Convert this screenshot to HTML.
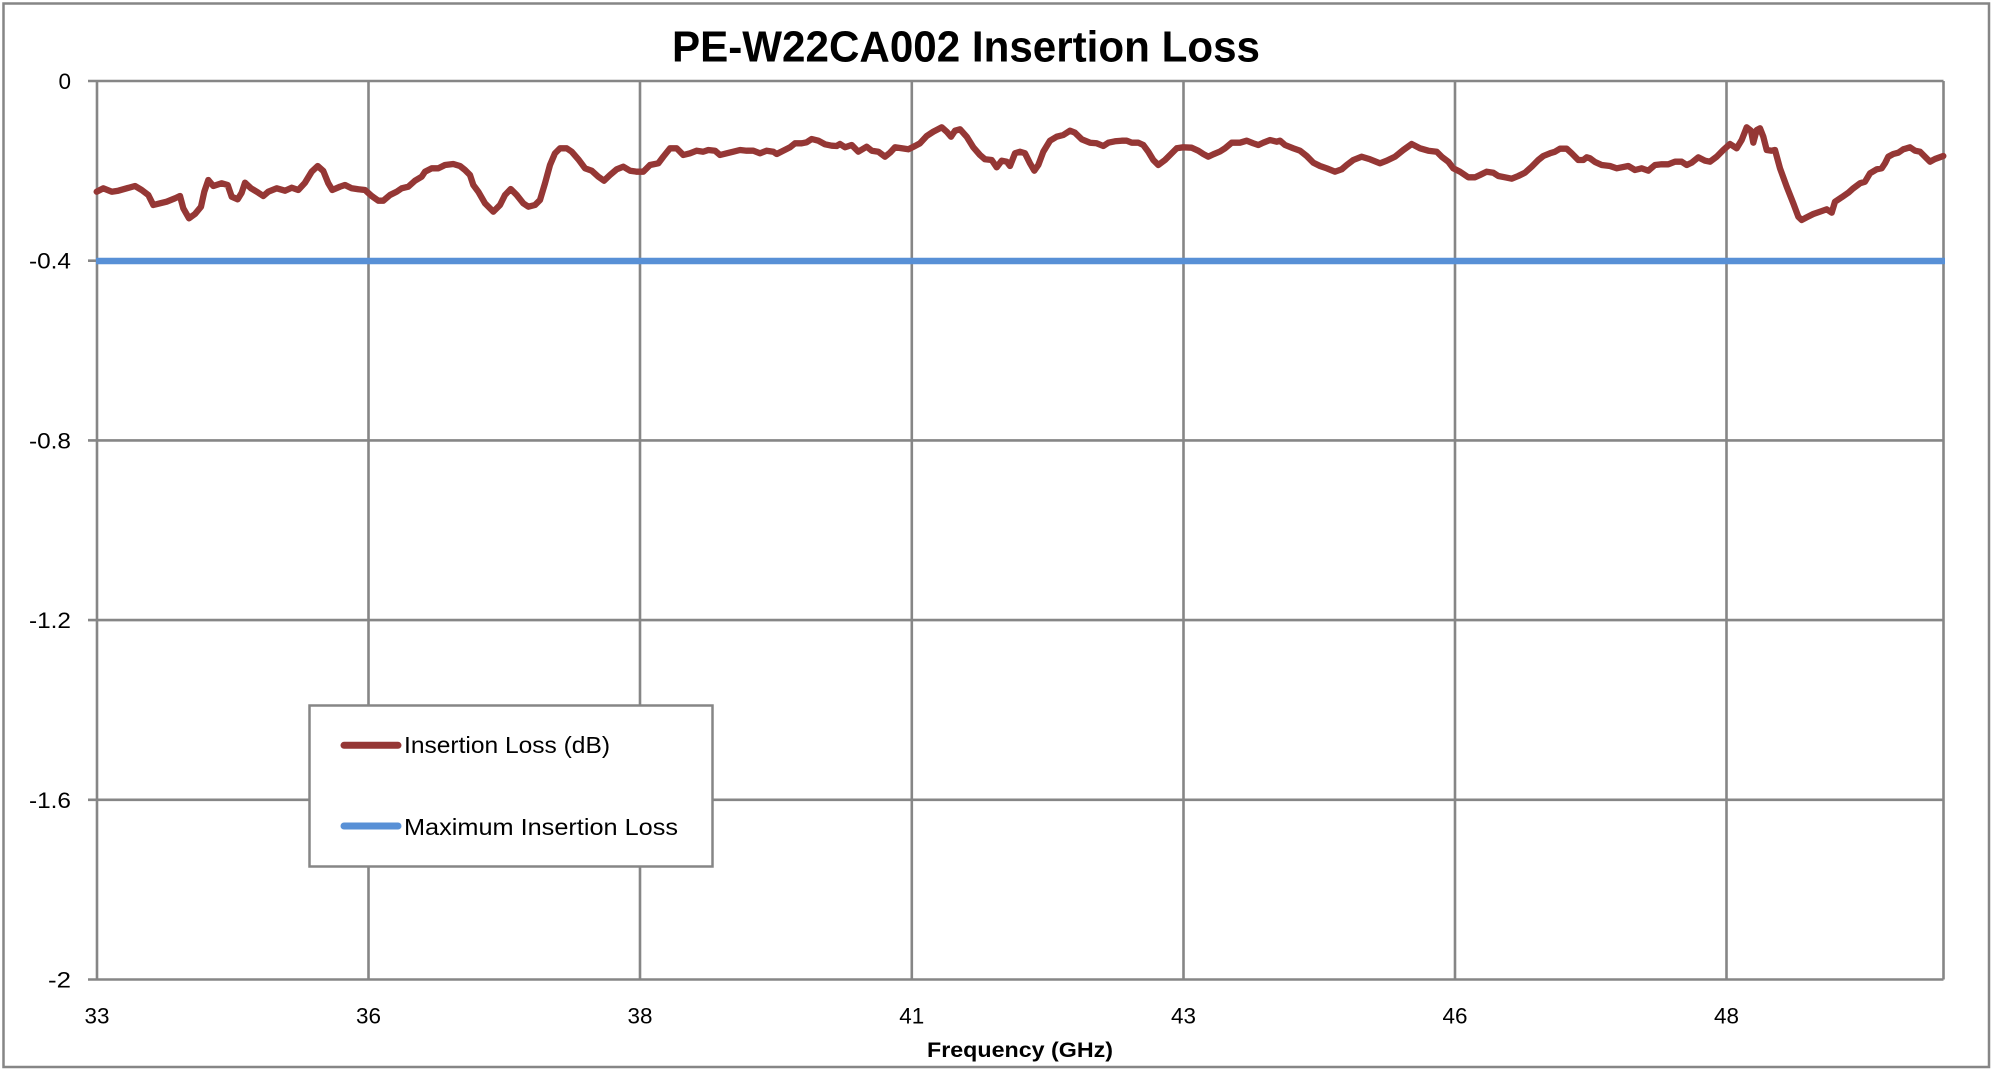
<!DOCTYPE html>
<html>
<head>
<meta charset="utf-8">
<style>
html,body{margin:0;padding:0;background:#fff;}
svg{display:block;}
text{font-family:"Liberation Sans", Arial, sans-serif;fill:#000;}
</style>
</head>
<body>
<svg width="1993" height="1071" viewBox="0 0 1993 1071" xmlns="http://www.w3.org/2000/svg">
<rect x="0" y="0" width="1993" height="1071" fill="#fff"/>
<rect x="3.5" y="3.5" width="1985.5" height="1063.5" fill="none" stroke="#868686" stroke-width="2.5"/>

<text x="966" y="61.5" font-size="44" font-weight="bold" text-anchor="middle" textLength="588" lengthAdjust="spacingAndGlyphs">PE-W22CA002 Insertion Loss</text>

<g stroke="#868686" stroke-width="2.6" fill="none">
  <line x1="88" y1="81" x2="1943.5" y2="81"/>
  <line x1="88" y1="260.7" x2="1943.5" y2="260.7"/>
  <line x1="88" y1="440.4" x2="1943.5" y2="440.4"/>
  <line x1="88" y1="620.1" x2="1943.5" y2="620.1"/>
  <line x1="88" y1="799.8" x2="1943.5" y2="799.8"/>
  <line x1="88" y1="979.5" x2="1943.5" y2="979.5"/>
  <line x1="97" y1="81" x2="97" y2="979.5"/>
  <line x1="368.5" y1="81" x2="368.5" y2="979.5"/>
  <line x1="640" y1="81" x2="640" y2="979.5"/>
  <line x1="911.8" y1="81" x2="911.8" y2="979.5"/>
  <line x1="1183.5" y1="81" x2="1183.5" y2="979.5"/>
  <line x1="1455" y1="81" x2="1455" y2="979.5"/>
  <line x1="1726.5" y1="81" x2="1726.5" y2="979.5"/>
  <line x1="1943.5" y1="81" x2="1943.5" y2="979.5"/>
</g>

<g font-size="22.5" text-anchor="end">
  <text x="71" y="89">0</text>
  <text x="71" y="268.7" textLength="42" lengthAdjust="spacingAndGlyphs">-0.4</text>
  <text x="71" y="448.4" textLength="42" lengthAdjust="spacingAndGlyphs">-0.8</text>
  <text x="71" y="628.1" textLength="42" lengthAdjust="spacingAndGlyphs">-1.2</text>
  <text x="71" y="807.8" textLength="42" lengthAdjust="spacingAndGlyphs">-1.6</text>
  <text x="71" y="987.5" textLength="23" lengthAdjust="spacingAndGlyphs">-2</text>
</g>

<g font-size="22.5" text-anchor="middle">
  <text x="97" y="1023.5" textLength="25" lengthAdjust="spacingAndGlyphs">33</text>
  <text x="368.5" y="1023.5" textLength="25" lengthAdjust="spacingAndGlyphs">36</text>
  <text x="640" y="1023.5" textLength="25" lengthAdjust="spacingAndGlyphs">38</text>
  <text x="911.8" y="1023.5" textLength="25" lengthAdjust="spacingAndGlyphs">41</text>
  <text x="1183.5" y="1023.5" textLength="25" lengthAdjust="spacingAndGlyphs">43</text>
  <text x="1455" y="1023.5" textLength="25" lengthAdjust="spacingAndGlyphs">46</text>
  <text x="1726.5" y="1023.5" textLength="25" lengthAdjust="spacingAndGlyphs">48</text>
</g>

<text x="1020" y="1057" font-size="21" font-weight="bold" text-anchor="middle" textLength="186" lengthAdjust="spacingAndGlyphs">Frequency (GHz)</text>

<line x1="96" y1="261" x2="1945" y2="261" stroke="#5890D6" stroke-width="6.5"/>

<path fill="none" stroke="#953735" stroke-width="6.3" stroke-linejoin="round" stroke-linecap="round" d="
M96.7,191.7 L103.3,188.3 L111.7,191.7 L118.3,190.7 L126.7,188.3 L135,186 L141.7,190 L148.3,195 L153.3,205 L160,203.3 L166.7,201.7 L175,198.3 L180,196 L183.3,208.3 L189,218.3 L195,214 L201,206.7 L204.3,191.7 L208.3,180 L213.3,186 L221.7,183.3 L227.7,185 L231.7,196.7 L237.7,199.3 L241.7,192.7 L245,182.7 L251,188.3 L258.3,192.7 L263.3,196 L268.3,191.7 L276.7,188.3 L285,190.7 L291.7,187.7 L298.3,190 L305,182.7 L311.7,171.7 L317.7,166 L323.3,171 L328.3,183.3 L332.3,190 L340,186.7 L345,185 L351.7,188.3 L358.3,189.3 L365,190 L371.7,196 L378.3,200.7 L383.3,200.7 L390,195 L396.7,191.7 L401.7,188.3 L408.3,186.7 L415,180.7 L421.7,176.7 L425,171.7 L431.7,168.3 L438.3,168.3 L445,165 L453.3,164 L460,166 L465,170 L470,175
L473.3,185 L478.3,191.7 L485,203.3 L493.3,211.7 L500,205 L505,195 L510.7,189 L516.7,195 L523.3,203.3 L528.3,206.7 L535,205 L540,200 L545,183.3 L550,165 L555,153.3 L560,148.3 L566.7,148.3 L571.7,151.7 L578.3,159.3 L585,168.3 L591.7,170.7 L598.3,176.7 L604,180.7 L610,175 L616.7,169.3 L623.3,166.7 L630,170.7 L636.7,171.7 L643.3,171.7 L650,165 L658.3,163.3 L663.3,156.7 L670,148.3 L676.7,148.3 L683.3,155 L690,153.3 L696.7,150.7 L703.3,151.7 L708.3,150 L715,150.7 L720,155 L726.7,153.3 L733.3,151.7 L740,150 L746.7,150.7 L753.3,150.7 L760,153.3 L766.7,150.7 L773.3,151.7 L776.7,154 L783.3,150.7 L790,147.3 L795,143.3 L801.7,143.3 L806.7,142.3 L811.7,139 L818.3,140.7 L825,144.3 L831.7,145.7 L836.7,146 L840,144 L845,147.3
L851.7,145 L858.3,151.7 L866.7,146.7 L871.7,150.7 L878.3,151.7 L885,156.7 L890,152.7 L895,147.3 L901.7,148.3 L908.3,149.3 L915,146 L920,143.3 L926.7,136 L933.3,131.7 L941.7,127.3 L946.7,131.7 L951,136.7 L955,130.7 L960,129.3 L966.7,136.7 L973.3,147.3 L980,155 L985,159.3 L991.7,160 L996.7,167.3 L1001.7,160.7 L1006.7,161.7 L1010,166 L1015,153.3 L1020,151.7 L1025,153.3 L1030,163.3 L1034.3,170.7 L1038.3,165 L1043.3,151.7 L1050,140.7 L1056.7,136.7 L1063.3,135 L1070,130.7 L1075,132.7 L1081.7,139.3 L1090,142.7 L1096.7,143.3 L1103.3,146 L1108.3,142.7 L1115,141.3 L1121.7,140.7 L1126.7,140.7 L1131.7,142.7 L1138.3,142.7 L1143.3,145 L1148.3,151.7 L1153.3,160 L1158.3,165 L1165,160 L1171.7,153.3 L1176.7,148.3 L1183.3,147.3 L1191.7,147.7 L1198.3,150.7 L1203.3,154 L1208.3,156.7 L1213.3,154.3 L1220,151.5
L1225,148.3 L1231.7,142.7 L1240,142.7 L1246.7,140.7 L1253.3,143.3 L1258.3,145 L1263.3,142.7 L1270,140 L1276.7,141.7 L1280,140.7 L1285,145 L1293.3,148.3 L1300,150.7 L1306.7,156 L1313.3,162.7 L1320,166 L1326.7,168.3 L1335,171.7 L1341.7,169.3 L1346.7,165 L1353.3,160 L1361.7,156.7 L1370,159.3 L1380,163.3 L1386.7,160.7 L1395,156.7 L1403.3,150 L1411.7,144 L1420,148.3 L1428.3,150.7 L1436.7,151.7 L1441.7,156.7 L1448.3,161.7 L1453.3,168.3 L1460,171.7 L1468.3,177.3 L1475,177.3 L1480,175 L1486.7,171.7 L1493.3,172.7 L1498.3,176 L1505,177.3 L1511.7,178.7 L1518.3,176 L1525,172.7 L1531.7,166.7 L1538.3,160 L1543.3,156 L1550,153.3 L1555,151.7 L1560,148.7 L1566.7,148.7 L1571.7,153.3 L1578.3,160 L1583.3,160 L1586.7,157.3 L1590,158.3 L1595,162
L1601.7,165 L1610,166 L1616.7,168.3 L1621.7,167.3 L1628.3,166 L1635,170 L1641.7,168.3 L1648.3,170.7 L1655,165 L1661.7,164.3 L1668.3,164.3 L1675,161.7 L1681.7,161.7 L1686.7,165 L1691.7,162.7 L1698.3,157.3 L1705,160.7 L1710,161.7 L1716.7,156.7 L1723.3,150 L1730,144 L1736.7,148.3 L1741.7,140 L1746.7,127.3 L1751,130.7 L1753.3,142.7 L1756.7,130 L1760,128.3 L1763.3,136.7 L1766.7,150 L1771.7,150.7 L1775,150 L1780,168.3 L1786.7,186.7 L1793.3,203.3 L1798.3,216.7 L1801.7,220 L1806.7,217.3 L1813.3,214 L1820,211.7 L1826.7,209.3 L1831.7,212.7 L1835,201.7 L1841.7,197.3 L1848.3,192.7 L1853.3,188.3 L1860,183.3 L1865,181.7 L1870,173.3 L1876.7,169.3 L1881.7,168.3 L1885,163.3 L1888.3,156.7 L1893.3,154 L1898.3,152.7 L1903.3,149.3 L1910,147.3 L1915,150.7 L1920,151.7 L1925,156.7 L1930,161.7 L1935,159 L1943.3,156"/>

<rect x="309.5" y="705.5" width="403" height="161" fill="#fff" stroke="#868686" stroke-width="2.5"/>
<line x1="344" y1="745.3" x2="398" y2="745.3" stroke="#953735" stroke-width="7" stroke-linecap="round"/>
<line x1="344" y1="826" x2="398" y2="826" stroke="#5890D6" stroke-width="7" stroke-linecap="round"/>
<text x="404" y="753" font-size="23" textLength="206" lengthAdjust="spacingAndGlyphs">Insertion Loss (dB)</text>
<text x="404" y="835" font-size="23" textLength="274" lengthAdjust="spacingAndGlyphs">Maximum Insertion Loss</text>
</svg>
</body>
</html>
